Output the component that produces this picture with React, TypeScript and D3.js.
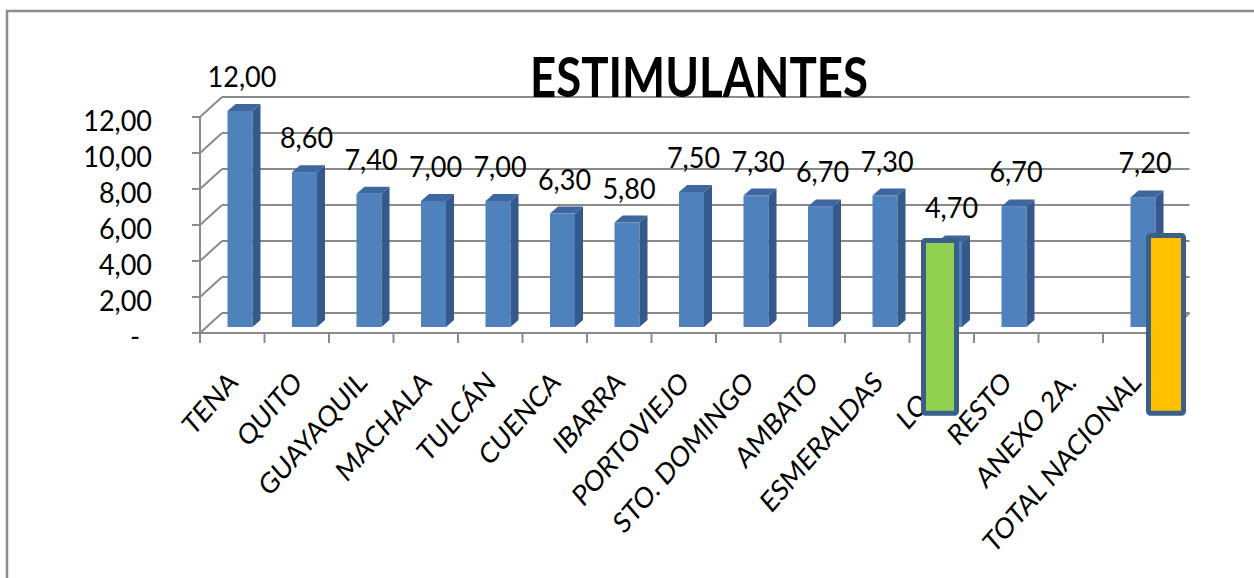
import React from "react";
import * as d3 from "d3";

const categories = [
  "TENA", "QUITO", "GUAYAQUIL", "MACHALA", "TULCÁN", "CUENCA", "IBARRA",
  "PORTOVIEJO", "STO. DOMINGO", "AMBATO", "ESMERALDAS", "LOJA", "RESTO",
  "ANEXO 2A.", "TOTAL NACIONAL",
];
const values: (number | null)[] = [
  12.0, 8.6, 7.4, 7.0, 7.0, 6.3, 5.8, 7.5, 7.3, 6.7, 7.3, 4.7, 6.7, null, 7.2,
];
const yTicks = [0, 2, 4, 6, 8, 10, 12];
const title = "ESTIMULANTES";
const highlights = [
  { cat: "LOJA", color: "#92D050", top: 5.28, bottom: -4.6, dx: 11.5, w: 38 },
  { cat: "TOTAL NACIONAL", color: "#FFC000", top: 5.56, bottom: -4.6, dx: 43, w: 40 },
];

const W = 1254;
const H = 578;
const DX = 22;
const DY = -20;
const BAR_F = 0.3;
const BAR_W = 25;
const BAR_OFF = 27.5;
const BD_X = 8;
const BD_Y = -7;

const FONT = "Lato, 'Open Sans', sans-serif";
const GRID = "#8a8a8a";

const fmt = (v: number) => d3.format(".2f")(v).replace(".", ",");

export default function App() {
  const x = d3.scaleBand<string>().domain(categories).range([200, 200 + 64.5 * categories.length]).padding(0);
  const y = d3.scaleLinear().domain([0, 12]).range([333, 117]);
  const x0 = x.range()[0];
  const x1 = x.range()[1];
  const bw = x.bandwidth();

  const bars = categories.map((c, i) => ({ c, v: values[i] })).filter((d) => d.v !== null) as { c: string; v: number }[];

  return (
    <svg width={W} height={H} style={{ position: "absolute", left: 0, top: 0, background: "#fff" }}>
      <rect x={0} y={0} width={W} height={H} fill="#fff" />
      <rect x={7} y={11} width={1400} height={800} fill="none" stroke="#8c8c8c" strokeWidth={2.5} />

      {/* back wall gridlines */}
      {yTicks.map((t) => (
        <g key={"g" + t}>
          <line x1={x0} y1={y(t)} x2={x0 + DX} y2={y(t) + DY} stroke={GRID} strokeWidth={2} />
          <line x1={x0 + DX} y1={y(t) + DY} x2={x1 + DX} y2={y(t) + DY} stroke={GRID} strokeWidth={2} />
          <line x1={x0 - 8} y1={y(t)} x2={x0} y2={y(t)} stroke={GRID} strokeWidth={2} />
        </g>
      ))}
      {/* floor right edge */}
      <line x1={x1} y1={y(0)} x2={x1 + DX} y2={y(0) + DY} stroke={GRID} strokeWidth={2} />
      {/* left axis */}
      <line x1={x0} y1={y(0)} x2={x0} y2={y(12)} stroke={GRID} strokeWidth={2} />
      {/* base axis */}
      <line x1={x0 - 8} y1={y(0)} x2={x1} y2={y(0)} stroke={GRID} strokeWidth={2} />
      {d3.range(categories.length + 1).map((i) => (
        <line key={"t" + i} x1={x0 + bw * i} y1={y(0)} x2={x0 + bw * i} y2={y(0) + 10} stroke={GRID} strokeWidth={2} />
      ))}

      {/* y tick labels */}
      {yTicks.map((t) => (
        <text
          key={"yl" + t}
          transform={`translate(${t === 0 ? 135 : 152},${y(t) + 3}) scale(1,1.08)`}
          textAnchor={t === 0 ? "middle" : "end"}
          dominantBaseline="central"
          fontFamily={FONT}
          fontSize={27}
          fill="#000"
        >
          {t === 0 ? "-" : fmt(t)}
        </text>
      ))}

      {/* bars */}
      {bars.map((d) => {
        const left = (x(d.c) as number) + BAR_OFF;
        const base = y(0) + DY * BAR_F;
        const top = y(d.v) + DY * BAR_F;
        const r = left + BAR_W;
        return (
          <g key={"b" + d.c}>
            <rect x={left} y={top} width={BAR_W} height={base - top} fill="#4F81BD" />
            <polygon
              points={`${r},${top} ${r + BD_X},${top + BD_Y} ${r + BD_X},${base + BD_Y} ${r},${base}`}
              fill="#34598A"
            />
            <polygon
              points={`${left},${top} ${left + BD_X},${top + BD_Y} ${r + BD_X},${top + BD_Y} ${r},${top}`}
              fill="#3D679E"
            />
            <text
              transform={`translate(${left + BAR_W / 2 + 2},${top + BD_Y - 17}) scale(1,1.08)`}
              textAnchor="middle"
              fontFamily={FONT}
              fontSize={27}
              fill="#000"
            >
              {fmt(d.v)}
            </text>
          </g>
        );
      })}

      {/* category labels */}
      {categories.map((c) => {
        const px = (x(c) as number) + bw / 2 + 7;
        const py = 384;
        return (
          <text
            key={"c" + c}
            transform={`translate(${px},${py}) scale(1,1.15) rotate(-45)`}
            textAnchor="end"
            fontFamily={FONT}
            fontSize={25}
            fill="#000"
          >
            {c}
          </text>
        );
      })}

      {/* title */}
      <text
        x={699}
        y={97}
        textAnchor="middle"
        fontFamily={FONT}
        fontWeight="bold"
        fontSize={55}
        textLength={338}
        lengthAdjust="spacingAndGlyphs"
        fill="#000"
      >
        {title}
      </text>

      {/* highlight boxes */}
      {highlights.map((h) => {
        const left = (x(h.cat) as number) + h.dx;
        const top = y(h.top);
        const bottom = y(h.bottom);
        return (
          <rect
            key={"h" + h.cat}
            x={left + 2.5}
            y={top + 2.5}
            width={h.w - 5}
            height={bottom - top - 5}
            rx={2}
            fill={h.color}
            stroke="#3A5F8B"
            strokeWidth={5}
          />
        );
      })}
    </svg>
  );
}
